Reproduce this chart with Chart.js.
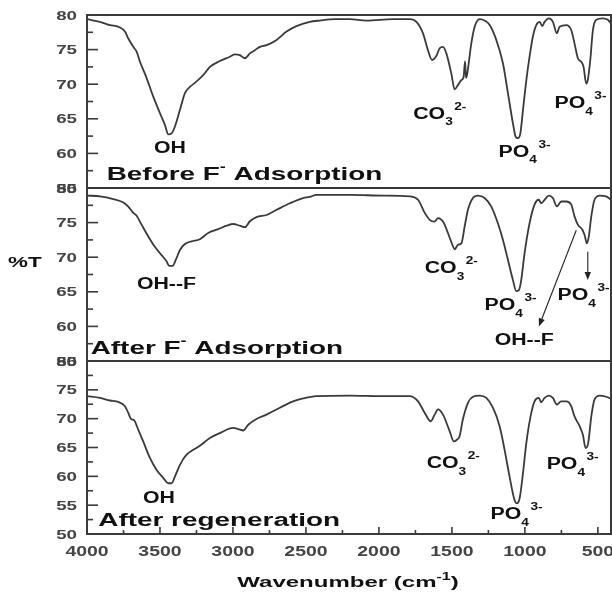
<!DOCTYPE html>
<html>
<head>
<meta charset="utf-8">
<script src="https://cdn.jsdelivr.net/npm/chart.js@4.4.1/dist/chart.umd.min.js"></script>
<style>
  html, body { margin: 0; padding: 0; background: #fff; }
  #wrap { width: 612px; height: 595px; }
</style>
</head>
<body>
<div id="wrap"><canvas id="ftir" width="612" height="595"></canvas></div>
<script>
// FTIR spectra of the adsorbent: before F- uptake, after F- uptake, after regeneration.
// Wavenumber (cm-1) and transmittance (%T) for each spectrum.
const wnBefore = [4000, 3911, 3843, 3774, 3740, 3717, 3683, 3660, 3637, 3591, 3546, 3500, 3466, 3443, 3420, 3398, 3363, 3329, 3295, 3249, 3204, 3158, 3090, 3021, 2987, 2953, 2918, 2884, 2850, 2816, 2770, 2701, 2633, 2565, 2474, 2405, 2300, 2200, 2086, 1903, 1789, 1743, 1698, 1664, 1636, 1606, 1584, 1561, 1538, 1504, 1481, 1458, 1435, 1420, 1410, 1403, 1395, 1367, 1344, 1310, 1276, 1241, 1196, 1150, 1116, 1082, 1063, 1048, 1031, 1013, 990, 968, 945, 922, 899, 881, 865, 836, 808, 781, 762, 716, 682, 660, 637, 614, 598, 580, 569, 552, 534, 511, 466, 432, 410];
const tBefore  = [79.4, 79.0, 78.55, 78.2, 77.6, 76.6, 75.4, 74.7, 73.25, 70.85, 68.2, 65.8, 64.1, 62.75, 62.9, 63.85, 66.3, 68.7, 69.6, 70.4, 71.3, 72.5, 73.35, 73.97, 74.3, 74.2, 73.75, 74.45, 74.9, 75.4, 75.65, 76.4, 77.6, 78.4, 79.0, 79.2, 79.4, 79.4, 79.2, 79.4, 79.4, 79.0, 77.35, 74.9, 73.5, 74.1, 75.2, 75.4, 74.45, 71.55, 69.25, 69.9, 70.6, 71.0, 73.3, 70.9, 71.5, 75.9, 78.3, 79.4, 79.2, 78.55, 76.4, 73.0, 68.7, 64.35, 62.4, 62.2, 62.9, 66.3, 70.6, 73.97, 76.9, 78.55, 79.0, 78.4, 79.0, 79.5, 79.0, 77.35, 78.3, 78.55, 77.8, 75.9, 73.75, 73.25, 72.5, 70.1, 70.6, 73.5, 77.8, 79.3, 79.5, 79.3, 78.8];

const wnAfter = [4000, 3911, 3820, 3751, 3717, 3683, 3660, 3626, 3580, 3535, 3489, 3455, 3437, 3414, 3392, 3363, 3329, 3284, 3227, 3170, 3101, 3044, 2998, 2953, 2918, 2884, 2839, 2770, 2701, 2610, 2519, 2474, 2428, 2200, 1972, 1789, 1732, 1686, 1652, 1618, 1595, 1561, 1527, 1497, 1481, 1458, 1435, 1413, 1390, 1356, 1321, 1276, 1230, 1185, 1150, 1116, 1082, 1059, 1041, 1025, 1002, 968, 934, 905, 888, 865, 836, 808, 781, 751, 716, 682, 660, 637, 607, 591, 575, 562, 545, 523, 488, 443, 410];
const tAfter  = [78.9, 78.8, 78.4, 77.9, 77.3, 76.4, 76.0, 74.7, 73.0, 71.5, 70.3, 69.4, 68.75, 68.75, 69.6, 71.05, 71.9, 72.3, 72.6, 73.5, 74.05, 74.55, 74.8, 74.55, 74.35, 75.2, 75.8, 76.1, 76.85, 77.8, 78.55, 78.7, 79.0, 79.0, 78.9, 78.8, 78.3, 76.4, 75.4, 75.15, 75.65, 75.15, 73.5, 71.8, 71.15, 71.8, 72.0, 74.4, 76.85, 78.55, 78.9, 78.55, 77.3, 74.9, 72.5, 69.6, 66.7, 65.1, 65.25, 66.7, 70.6, 74.9, 77.6, 78.3, 77.8, 78.3, 78.9, 78.55, 77.35, 78.05, 78.05, 77.6, 75.9, 74.7, 74.0, 73.2, 72.0, 73.0, 75.9, 78.3, 78.9, 78.8, 78.3];

const wnRegen = [4000, 3911, 3843, 3786, 3740, 3717, 3699, 3677, 3649, 3615, 3569, 3523, 3477, 3443, 3420, 3398, 3363, 3318, 3272, 3227, 3158, 3090, 2998, 2964, 2929, 2895, 2839, 2770, 2679, 2588, 2519, 2428, 2200, 1972, 1789, 1732, 1686, 1645, 1618, 1595, 1561, 1515, 1486, 1466, 1448, 1425, 1390, 1356, 1310, 1264, 1219, 1173, 1139, 1105, 1071, 1055, 1036, 1013, 990, 961, 934, 905, 888, 865, 836, 808, 781, 751, 716, 682, 660, 625, 603, 584, 566, 545, 523, 488, 443, 410];
const tRegen  = [73.9, 73.6, 73.15, 72.9, 72.15, 71.0, 69.95, 69.7, 68.1, 66.05, 63.2, 61.1, 59.7, 58.8, 58.8, 59.95, 62.0, 63.75, 64.6, 65.3, 66.65, 67.5, 68.4, 68.2, 67.95, 68.95, 69.95, 70.7, 71.9, 73.0, 73.5, 73.9, 74.0, 73.9, 73.9, 73.0, 71.0, 69.55, 70.7, 71.6, 70.7, 67.8, 66.05, 66.35, 66.9, 69.85, 72.75, 73.8, 74.0, 73.6, 71.9, 68.7, 64.6, 59.95, 55.9, 55.3, 56.2, 60.55, 65.8, 70.4, 73.0, 73.6, 72.85, 73.6, 74.0, 73.6, 72.45, 73.0, 73.0, 72.15, 70.4, 68.7, 67.25, 64.9, 65.8, 70.4, 73.3, 74.0, 73.8, 73.45];

// Axis ticks
const xTicks = [4000, 3500, 3000, 2500, 2000, 1500, 1000, 500];
const yTicksBefore = [55, 60, 65, 70, 75, 80];
const yTicksAfter  = [55, 60, 65, 70, 75, 80];
const yTicksRegen  = [50, 55, 60, 65, 70, 75, 80];

// Panel captions and band assignments (anchored in wavenumber / %T of their panel)
const captions = [
  { axis: 'yBefore', wn: 3865, t: 56.1,  parts: [['Before F'], ['-', 'csup'], [' Adsorption']] },
  { axis: 'yAfter',  wn: 3975, t: 55.95, parts: [['After F'], ['-', 'csup'], [' Adsorption']] },
  { axis: 'yRegen',  wn: 3923, t: 51.4,  parts: [['After regeneration']] }
];
const bands = [
  { axis: 'yBefore', wn: 3541, t: 60.05, parts: [['OH']] },
  { axis: 'yBefore', wn: 1765, t: 65.0,  parts: [['CO'], ['3', 'sub'], ['2-', 'sup']] },
  { axis: 'yBefore', wn: 1180, t: 59.5,  parts: [['PO'], ['4', 'sub'], ['3-', 'sup']] },
  { axis: 'yBefore', wn: 797,  t: 66.5,  parts: [['PO'], ['4', 'sub'], ['3-', 'sup']] },
  { axis: 'yAfter',  wn: 3658, t: 65.35, parts: [['OH--F']] },
  { axis: 'yAfter',  wn: 1686, t: 67.65, parts: [['CO'], ['3', 'sub'], ['2-', 'sup']] },
  { axis: 'yAfter',  wn: 1276, t: 62.35, parts: [['PO'], ['4', 'sub'], ['3-', 'sup']] },
  { axis: 'yAfter',  wn: 776,  t: 63.8,  parts: [['PO'], ['4', 'sub'], ['3-', 'sup']] },
  { axis: 'yAfter',  wn: 1207, t: 57.3,  parts: [['OH--F']] },
  { axis: 'yRegen',  wn: 3617, t: 55.35, parts: [['OH']] },
  { axis: 'yRegen',  wn: 1673, t: 61.4,  parts: [['CO'], ['3', 'sub'], ['2-', 'sup']] },
  { axis: 'yRegen',  wn: 1235, t: 52.55, parts: [['PO'], ['4', 'sub'], ['3-', 'sup']] },
  { axis: 'yRegen',  wn: 851,  t: 61.2,  parts: [['PO'], ['4', 'sub'], ['3-', 'sup']] }
];
// Arrows in the F- panel pointing from the bands to their labels
const arrows = [
  { axis: 'yAfter', from: [648, 73.9], to: [904, 60.0] },
  { axis: 'yAfter', from: [569, 70.8], to: [569, 66.7] }
];

const FONT = '"Liberation Sans", Arial, Helvetica, sans-serif';
const INK = '#111';
const AXIS_INK = '#3a3a3a';

const styles = {
  n:    { size: 16,   sx: 1.33, dy: 0 },
  sub:  { size: 10.5, sx: 1.3,  dy: 6.5 },
  sup:  { size: 10.5, sx: 1.3,  dy: -9 },
  cap:  { size: 18,   sx: 1.55, dy: 0 },
  csup: { size: 12,   sx: 1.5,  dy: -9 }
};

function drawStretched(ctx, s, x, y, size, sx, color) {
  ctx.save();
  ctx.font = 'bold ' + size + 'px ' + FONT;
  ctx.fillStyle = color;
  ctx.textAlign = 'left';
  ctx.textBaseline = 'alphabetic';
  const w = ctx.measureText(s).width * sx;
  ctx.translate(x, y);
  ctx.scale(sx, 1);
  ctx.fillText(s, 0, 0);
  ctx.restore();
  return w;
}
function measureStretched(ctx, s, size, sx) {
  ctx.save();
  ctx.font = 'bold ' + size + 'px ' + FONT;
  const w = ctx.measureText(s).width * sx;
  ctx.restore();
  return w;
}
function drawRich(ctx, parts, x, y, baseKind) {
  let cx = x;
  parts.forEach(([s, kind]) => {
    const st = styles[kind || baseKind];
    cx += drawStretched(ctx, s, cx, y + st.dy, st.size, st.sx, INK);
    if (kind === 'sub') cx += 1.5;
  });
}
function drawArrow(ctx, x1, y1, x2, y2) {
  const ang = Math.atan2(y2 - y1, x2 - x1);
  const head = 8, half = 3.2;
  ctx.save();
  ctx.strokeStyle = '#222';
  ctx.fillStyle = '#222';
  ctx.lineWidth = 1.1;
  ctx.beginPath();
  ctx.moveTo(x1, y1);
  ctx.lineTo(x2 - head * Math.cos(ang), y2 - head * Math.sin(ang));
  ctx.stroke();
  ctx.beginPath();
  ctx.moveTo(x2, y2);
  ctx.lineTo(x2 - head * Math.cos(ang) + half * Math.sin(ang), y2 - head * Math.sin(ang) - half * Math.cos(ang));
  ctx.lineTo(x2 - head * Math.cos(ang) - half * Math.sin(ang), y2 - head * Math.sin(ang) + half * Math.cos(ang));
  ctx.closePath();
  ctx.fill();
  ctx.restore();
}

const framePlugin = {
  id: 'ftirFrame',
  beforeDraw(chart) {
    const ctx = chart.ctx;
    ctx.save();
    ctx.fillStyle = '#fff';
    ctx.fillRect(0, 0, chart.width, chart.height);
    ctx.restore();
  },
  afterDatasetsDraw(chart) {
    const ctx = chart.ctx;
    const area = chart.chartArea;
    const xs = chart.scales.x;
    const panels = ['yBefore', 'yAfter', 'yRegen'].map(id => chart.scales[id]);

    ctx.save();
    ctx.strokeStyle = AXIS_INK;
    ctx.lineCap = 'butt';

    panels.forEach(ys => {
      // panel frame
      ctx.lineWidth = 2;
      ctx.strokeRect(area.left, ys.top, area.right - area.left, ys.bottom - ys.top);
      // inward major and minor ticks on the %T axis
      ctx.lineWidth = 1.6;
      const vals = ys.ticks.map(t => t.value);
      vals.forEach((v, i) => {
        const y = ys.getPixelForValue(v);
        ctx.beginPath(); ctx.moveTo(area.left, y); ctx.lineTo(area.left + 11, y); ctx.stroke();
        if (i < vals.length - 1) {
          const ym = ys.getPixelForValue((v + vals[i + 1]) / 2);
          ctx.beginPath(); ctx.moveTo(area.left, ym); ctx.lineTo(area.left + 6, ym); ctx.stroke();
        }
      });
      // %T tick labels
      vals.forEach(v => {
        const y = ys.getPixelForValue(v) + 4.5;
        const w = measureStretched(ctx, String(v), 12.5, 1.5);
        drawStretched(ctx, String(v), 77 - w, y, 12.5, 1.5, '#444');
      });
    });

    // wavenumber ticks along the bottom
    const xv = xs.ticks.map(t => t.value);
    ctx.lineWidth = 1.6;
    xv.forEach((v, i) => {
      const x = xs.getPixelForValue(v);
      ctx.beginPath(); ctx.moveTo(x, area.bottom); ctx.lineTo(x, area.bottom - 7); ctx.stroke();
      if (i < xv.length - 1) {
        const xm = xs.getPixelForValue((v + xv[i + 1]) / 2);
        ctx.beginPath(); ctx.moveTo(xm, area.bottom); ctx.lineTo(xm, area.bottom - 4); ctx.stroke();
      }
      const w = measureStretched(ctx, String(v), 14.5, 1.34);
      drawStretched(ctx, String(v), x - w / 2, area.bottom + 22, 14.5, 1.34, '#444');
    });
    ctx.restore();

    // band labels, captions and arrows
    bands.forEach(b => {
      const ys = chart.scales[b.axis];
      drawRich(ctx, b.parts, xs.getPixelForValue(b.wn), ys.getPixelForValue(b.t), 'n');
    });
    captions.forEach(c => {
      const ys = chart.scales[c.axis];
      drawRich(ctx, c.parts, xs.getPixelForValue(c.wn), ys.getPixelForValue(c.t), 'cap');
    });
    arrows.forEach(a => {
      const ys = chart.scales[a.axis];
      drawArrow(ctx, xs.getPixelForValue(a.from[0]), ys.getPixelForValue(a.from[1]),
                     xs.getPixelForValue(a.to[0]), ys.getPixelForValue(a.to[1]));
    });

    // axis titles
    const ttl = [['Wavenumber (cm'], ['-1', 'tsup'], [')']];
    const tStyles = { n: [15, 1.6, 0], tsup: [10, 1.6, -7] };
    let total = 0;
    ttl.forEach(([s, k]) => { const st = tStyles[k || 'n']; total += measureStretched(ctx, s, st[0], st[1]); });
    let tx = (area.left + area.right) / 2 - total / 2 - 1;
    ttl.forEach(([s, k]) => { const st = tStyles[k || 'n']; tx += drawStretched(ctx, s, tx, 587 + st[2], st[0], st[1], INK); });
    drawStretched(ctx, '%T', 8, 267, 14, 1.6, INK);
  }
};

function series(wn, t) { return wn.map((x, i) => ({ x: x, y: t[i] })); }
function lineSet(label, wn, t, axis) {
  return {
    label: label,
    data: series(wn, t),
    yAxisID: axis,
    borderColor: '#3a3a3a',
    borderWidth: 1.8,
    pointRadius: 0,
    fill: false,
    cubicInterpolationMode: 'monotone'
  };
}
function panelAxis(ticks, order) {
  return {
    type: 'linear',
    position: 'left',
    stack: 'ftir',
    stackWeight: 1,
    weight: order,
    min: ticks[0],
    max: ticks[ticks.length - 1],
    ticks: { display: false },
    grid: { display: false },
    border: { display: false },
    afterBuildTicks: s => { s.ticks = ticks.map(v => ({ value: v })); },
    afterFit: s => { s.width = 87; }
  };
}

new Chart(document.getElementById('ftir'), {
  type: 'line',
  data: {
    datasets: [
      lineSet('Before F- Adsorption', wnBefore, tBefore, 'yBefore'),
      lineSet('After F- Adsorption', wnAfter, tAfter, 'yAfter'),
      lineSet('After regeneration', wnRegen, tRegen, 'yRegen')
    ]
  },
  options: {
    responsive: false,
    devicePixelRatio: 1,
    animation: false,
    layout: { padding: { top: 15, right: 1, bottom: 0, left: 0 } },
    plugins: { legend: { display: false }, tooltip: { enabled: false } },
    scales: {
      x: {
        type: 'linear',
        reverse: true,
        min: 410,
        max: 4000,
        position: 'bottom',
        ticks: { display: false },
        grid: { display: false },
        border: { display: false },
        afterBuildTicks: s => { s.ticks = xTicks.map(v => ({ value: v })); },
        afterFit: s => { s.height = 61; }
      },
      yBefore: panelAxis(yTicksBefore, 3),
      yAfter: panelAxis(yTicksAfter, 2),
      yRegen: panelAxis(yTicksRegen, 1)
    }
  },
  plugins: [framePlugin]
});
</script>
</body>
</html>
